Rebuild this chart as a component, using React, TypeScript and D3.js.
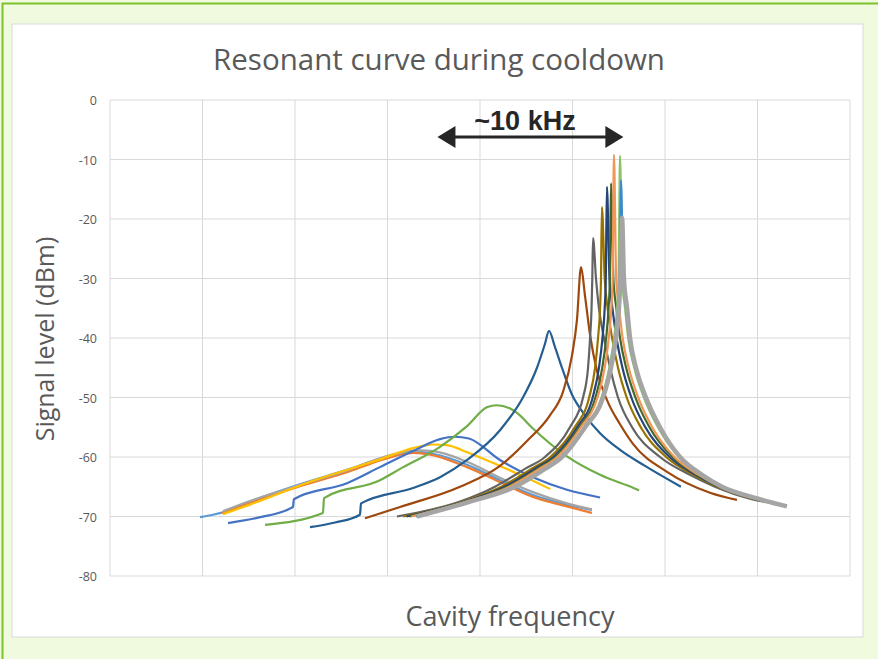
import React from "react";
import * as d3 from "d3";

// x: relative cavity frequency (kHz), y: signal level (dBm)
const yTicks = [0, -10, -20, -30, -40, -50, -60, -70, -80];
const xGrid = [0, 5, 10, 15, 20, 25, 30, 35, 40];

const sLightBlue: [number, number][] = [[4.86,-70.1],[5.57,-69.7],[6.11,-69.3],[7.57,-67.5],[10.27,-64.6],[12.97,-62.0],[14.59,-60.3],[15.68,-59.5],[16.5,-59.1],[17.5,-59.5],[19.3,-61.3],[21.08,-63.9],[22.86,-66.4],[24.7,-68.0],[26.05,-68.9]];
const sOrange: [number, number][] = [[6.05,-69.4],[7.57,-67.7],[10.27,-64.9],[12.97,-62.4],[14.59,-60.6],[15.68,-59.6],[16.4,-59.3],[17.3,-59.6],[19.3,-61.7],[21.08,-64.2],[22.86,-66.7],[24.7,-68.3],[26.05,-69.4]];
const sGrey: [number, number][] = [[6.11,-69.1],[7.57,-67.4],[10.27,-64.7],[12.97,-62.1],[14.59,-60.2],[15.68,-59.3],[16.76,-58.9],[17.46,-59.0],[19.3,-60.8],[21.08,-63.5],[22.86,-65.9],[24.7,-67.8],[26.05,-68.8]];
const sYellow: [number, number][] = [[6.11,-69.6],[7.57,-68.0],[10.97,-64.0],[14.59,-60.4],[16.38,-58.5],[17.46,-57.9],[18.2,-58.0],[19.3,-59.2],[21.08,-61.5],[22.86,-64.0],[23.8,-65.4]];
const sBlue: [number, number][] = [[6.38,-71.1],[8.0,-70.2],[9.89,-68.4],[9.94,-67.1],[12.81,-64.4],[14.59,-61.7],[16.38,-59.0],[17.84,-57.0],[18.65,-56.6],[19.4,-56.9],[21.08,-60.5],[22.86,-63.4],[24.7,-65.5],[26.49,-66.8]];
const sGreen: [number, number][] = [[8.38,-71.4],[11.51,-69.4],[11.57,-66.9],[14.59,-63.9],[15.68,-62.0],[17.84,-58.3],[19.3,-54.8],[20.4,-51.6],[20.9,-51.3],[21.6,-51.8],[22.0,-52.6],[22.86,-55.2],[24.7,-59.9],[26.49,-63.0],[28.3,-65.2],[28.6,-65.6]];
const sDarkBlue: [number, number][] = [[10.81,-71.8],[12.16,-71.0],[13.51,-69.7],[13.57,-67.8],[16.38,-65.2],[17.84,-63.4],[19.3,-60.5],[21.08,-55.5],[22.32,-50.0],[23.08,-45.0],[23.51,-41.0],[23.73,-38.8],[24.05,-41.5],[24.43,-45.0],[24.97,-49.5],[25.68,-53.0],[26.49,-56.0],[27.57,-58.8],[28.92,-61.5],[30.86,-65.0]];
const sBrown: [number, number][] = [[13.78,-70.3],[15.68,-68.4],[18.92,-65.0],[21.08,-61.5],[22.54,-57.3],[23.78,-53.0],[24.49,-49.0],[24.97,-43.0],[25.24,-37.0],[25.46,-28.1],[25.68,-33.0],[25.95,-39.5],[26.32,-45.5],[26.86,-50.4],[27.57,-54.5],[28.27,-57.8],[30.11,-62.5],[32.43,-66.0],[33.89,-67.2]];
const sDarkGrey: [number, number][] = [[15.51,-70.0],[18.92,-67.5],[20.81,-65.0],[22.43,-62.0],[23.51,-60.0],[24.86,-55.0],[25.57,-50.0],[25.84,-45.0],[25.95,-40.0],[26.03,-35.0],[26.07,-30.0],[26.11,-23.2],[26.27,-30.0],[26.43,-35.0],[26.7,-40.0],[27.03,-45.0],[27.46,-50.0],[28.22,-55.0],[29.73,-60.0],[31.35,-63.0],[32.7,-65.0],[34.59,-67.0],[35.51,-67.6]];
const sDarkYellow: [number, number][] = [[15.85,-70.0],[19.09,-67.5],[21.15,-65.0],[22.77,-62.0],[23.8,-60.0],[25.12,-55.0],[25.9,-50.0],[26.22,-45.0],[26.38,-40.0],[26.49,-35.0],[26.54,-30.0],[26.59,-18.0],[26.74,-30.0],[26.9,-35.0],[27.14,-40.0],[27.46,-45.0],[27.93,-50.0],[28.69,-55.0],[30.06,-60.0],[31.55,-63.0],[32.82,-65.0],[34.73,-67.0],[35.85,-67.8]];
const sNavy: [number, number][] = [[16.03,-70.0],[19.18,-67.5],[21.33,-65.0],[22.95,-62.0],[23.96,-60.0],[25.25,-55.0],[26.09,-50.0],[26.43,-45.0],[26.62,-40.0],[26.74,-35.0],[26.8,-30.0],[26.86,-14.6],[27.0,-30.0],[27.16,-35.0],[27.38,-40.0],[27.7,-45.0],[28.18,-50.0],[28.94,-55.0],[30.25,-60.0],[31.66,-63.0],[32.89,-65.0],[34.8,-67.0],[36.03,-67.9]];
const sDarkGreen: [number, number][] = [[16.18,-70.0],[19.25,-67.5],[21.48,-65.0],[23.1,-62.0],[24.08,-60.0],[25.37,-55.0],[26.24,-50.0],[26.61,-45.0],[26.82,-40.0],[26.95,-35.0],[27.02,-30.0],[27.08,-14.0],[27.21,-30.0],[27.37,-35.0],[27.57,-40.0],[27.9,-45.0],[28.4,-50.0],[29.16,-55.0],[30.4,-60.0],[31.75,-63.0],[32.94,-65.0],[34.86,-67.0],[36.18,-68.0]];
const sSalmon: [number, number][] = [[16.29,-70.0],[19.31,-67.5],[21.59,-65.0],[23.21,-62.0],[24.17,-60.0],[25.45,-55.0],[26.35,-50.0],[26.74,-45.0],[26.96,-40.0],[27.1,-35.0],[27.17,-30.0],[27.24,-9.2],[27.36,-30.0],[27.52,-35.0],[27.71,-40.0],[28.04,-45.0],[28.55,-50.0],[29.31,-55.0],[30.51,-60.0],[31.82,-63.0],[32.97,-65.0],[34.91,-67.0],[36.29,-68.0]];
const sLightGreen: [number, number][] = [[16.52,-70.0],[19.42,-67.5],[21.82,-65.0],[23.44,-62.0],[24.37,-60.0],[25.62,-55.0],[26.57,-50.0],[26.99,-45.0],[27.25,-40.0],[27.41,-35.0],[27.49,-30.0],[27.57,-9.4],[27.68,-30.0],[27.84,-35.0],[28.01,-40.0],[28.34,-45.0],[28.86,-50.0],[29.62,-55.0],[30.74,-60.0],[31.96,-63.0],[33.05,-65.0],[34.99,-67.0],[36.52,-68.2]];
const sMidBlue: [number, number][] = [[16.56,-70.0],[19.44,-67.5],[21.86,-65.0],[23.48,-62.0],[24.41,-60.0],[25.65,-55.0],[26.62,-50.0],[27.04,-45.0],[27.31,-40.0],[27.47,-35.0],[27.55,-30.0],[27.62,-13.5],[27.74,-30.0],[27.9,-35.0],[28.06,-40.0],[28.39,-45.0],[28.93,-50.0],[29.69,-55.0],[30.78,-60.0],[31.98,-63.0],[33.07,-65.0],[35.02,-67.0],[36.56,-68.3]];
const sGreyThick: [number, number][] = [[16.59,-70.0],[19.46,-67.5],[21.89,-65.0],[23.51,-62.0],[24.43,-60.0],[25.68,-55.0],[26.65,-50.0],[27.08,-45.0],[27.35,-40.0],[27.51,-35.0],[27.59,-30.0],[27.68,-19.8],[27.78,-30.0],[27.95,-35.0],[28.11,-40.0],[28.43,-45.0],[28.97,-50.0],[29.73,-55.0],[30.81,-60.0],[32.0,-63.0],[33.08,-65.0],[35.03,-67.0],[36.59,-68.3]];

const seriesList = [
  { data: sLightBlue, color: "#5B9BD5", w: 2.2 },
  { data: sOrange, color: "#ED7D31", w: 2.2 },
  { data: sGrey, color: "#A5A5A5", w: 2.2 },
  { data: sYellow, color: "#FFC000", w: 2.2 },
  { data: sBlue, color: "#4472C4", w: 2.2 },
  { data: sGreen, color: "#70AD47", w: 2.2 },
  { data: sDarkBlue, color: "#255E91", w: 2.2 },
  { data: sBrown, color: "#9E480E", w: 2.2 },
  { data: sDarkGrey, color: "#636363", w: 2.2 },
  { data: sDarkYellow, color: "#997300", w: 2.2 },
  { data: sNavy, color: "#264478", w: 2.2 },
  { data: sDarkGreen, color: "#43682B", w: 2.2 },
  { data: sSalmon, color: "#F1975A", w: 2.2 },
  { data: sLightGreen, color: "#8CC168", w: 2.2 },
  { data: sMidBlue, color: "#3A8AC8", w: 2.2 },
  { data: sGreyThick, color: "#A5A5A5", w: 4.5 },
];

export default function App() {
  const x = d3.scaleLinear().domain([0, 40]).range([110, 850]);
  const y = d3.scaleLinear().domain([-80, 0]).range([576, 100]);
  const line = d3
    .line<[number, number]>()
    .x((d) => x(d[0]))
    .y((d) => y(d[1]))
    .curve(d3.curveMonotoneX);

  const arrowL = x(17.7);
  const arrowR = x(27.75);
  const ay = 137;
  const font = "'Open Sans', 'Noto Sans', sans-serif";

  return (
    <svg width={878} height={659} style={{ position: "absolute", left: 0, top: 0 }}>
      <rect x={0} y={0} width={878} height={659} fill="#F0FADF" />
      <rect x={2.5} y={3.5} width={900} height={700} fill="#F0FADF" stroke="#7CC22A" strokeWidth={2} />
      <rect x={12} y={24} width={851} height={613} fill="#FFFFFF" stroke="#D9D9D9" strokeWidth={1} />
      <text x={439} y={70} textAnchor="middle" fontFamily={font} fontSize={29.5} fill="#595959">
        Resonant curve during cooldown
      </text>
      {yTicks.map((t) => (
        <line key={"h" + t} x1={110} x2={850} y1={y(t)} y2={y(t)} stroke="#D9D9D9" strokeWidth={1} />
      ))}
      {xGrid.map((t) => (
        <line key={"v" + t} x1={x(t)} x2={x(t)} y1={100} y2={576} stroke="#D9D9D9" strokeWidth={1} />
      ))}
      {yTicks.map((t) => (
        <text key={"l" + t} x={97} y={y(t) + 5} textAnchor="end" fontFamily={font} fontSize={12.5} fill="#595959">
          {t}
        </text>
      ))}
      <text transform={`translate(54,339) rotate(-90)`} textAnchor="middle" fontFamily={font} fontSize={25} fill="#595959">
        Signal level (dBm)
      </text>
      <text x={510} y={626} textAnchor="middle" fontFamily={font} fontSize={27} fill="#595959">
        Cavity frequency
      </text>
      {seriesList.map((s, i) => (
        <path key={i} d={line(s.data) || ""} fill="none" stroke={s.color} strokeWidth={s.w} strokeLinejoin="round" />
      ))}
      <text x={525} y={130} textAnchor="middle" fontFamily="'Liberation Sans', Arial, sans-serif" fontWeight="bold" fontSize={27} fill="#262626">
        ~10 kHz
      </text>
      <line x1={arrowL + 14} x2={arrowR - 14} y1={ay} y2={ay} stroke="#262626" strokeWidth={3} />
      <path d={`M${arrowL},${ay} L${arrowL + 18},${ay - 11} L${arrowL + 18},${ay + 11} Z`} fill="#262626" />
      <path d={`M${arrowR},${ay} L${arrowR - 18},${ay - 11} L${arrowR - 18},${ay + 11} Z`} fill="#262626" />
    </svg>
  );
}
